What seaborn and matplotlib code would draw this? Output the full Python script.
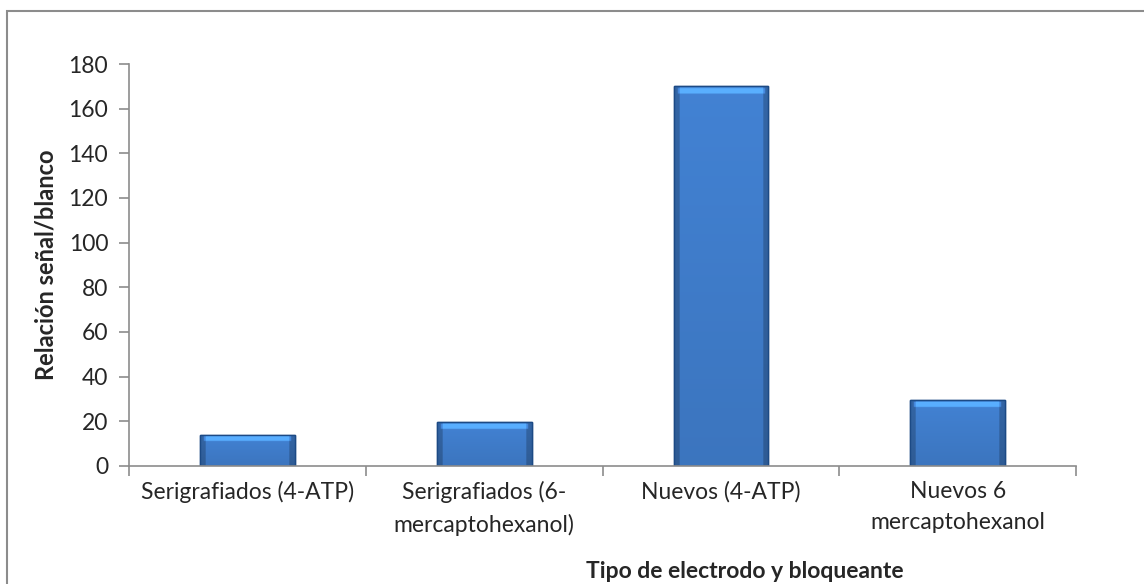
import numpy as np
import pandas as pd
import matplotlib
matplotlib.use("Agg")
import matplotlib.pyplot as plt
from matplotlib.patches import Rectangle
import seaborn as sns

# Daten aus dem Diagramm
categories = ["Serigrafiados (4-ATP)", "Serigrafiados (6-\nmercaptohexanol)",
              "Nuevos (4-ATP)", "Nuevos 6\nmercaptohexanol"]
values = [14, 19.5, 170, 29.5]
y_ticks = [0, 20, 40, 60, 80, 100, 120, 140, 160, 180]

df = pd.DataFrame({"Tipo": categories, "Relacion": values})

sns.set_theme(style="white")
plt.rcParams["font.family"] = ["Lato", "DejaVu Sans"]
FS = 16.5

fig = plt.figure(figsize=(11.44, 5.84), dpi=100)
ax = fig.add_axes([0.1128, 0.2021, 0.8278, 0.6883])

sns.barplot(data=df, x="Tipo", y="Relacion", color="#3F7ED0", width=0.4,
            saturation=1, ax=ax, edgecolor="#1C4A85", linewidth=1.0)

# Verlauf auf den Balken (Excel-Bevel-Optik)
for p in ax.patches:
    x0, y0 = p.get_x(), p.get_y()
    w, h = p.get_width(), p.get_height()
    base = np.array([0.26, 0.51, 0.83])
    n = 200
    yy = np.linspace(0, 1, n)[:, None] * h   # Abstand von oben (Datenwerte)
    xx = np.linspace(0, 1, n)[None, :]
    shade = np.ones((n, n)) * (1.0 - 0.10 * (yy / h))
    # helle Oberkante
    shade = shade + 0.35 * ((yy > 0.6) & (yy < 3.0)) * (np.abs(xx - 0.5) < 0.46)
    # dunkle Seiten
    shade = shade * (1.0 - 0.22 * (np.abs(xx - 0.5) > 0.44))
    img = np.clip(base[None, None, :] * shade[:, :, None], 0, 1)
    im = ax.imshow(img, extent=[x0, x0 + w, y0, y0 + h], aspect="auto",
                   origin="upper", zorder=p.get_zorder() + 0.1,
                   interpolation="bilinear")
    im.set_clip_path(p)
    ax.add_patch(Rectangle((x0, y0), w, h, fill=False, edgecolor="#1C4A85",
                           lw=1.0, zorder=p.get_zorder() + 0.3))

ax.set_xlim(-0.5, 3.5)
ax.set_ylim(0, 180)
ax.set_yticks(y_ticks)
ax.set_yticklabels([str(t) for t in y_ticks], fontsize=FS)

# Kategorien-Ticks an den Grenzen
ax.set_xticks([-0.5, 0.5, 1.5, 2.5, 3.5])
ax.set_xticklabels([])
ax.set_xticks(range(4), minor=True)
ax.set_xticklabels(categories, minor=True, fontsize=FS, linespacing=1.6,
                   va="top")
ax.tick_params(axis="x", which="minor", length=0, pad=11)
ax.tick_params(axis="x", which="major", length=7, width=1.2, color="#8C8C8C",
               direction="out", bottom=True)
ax.tick_params(axis="y", length=7, width=1.2, color="#8C8C8C",
               direction="out", left=True, pad=8)

for s in ["top", "right"]:
    ax.spines[s].set_visible(False)
for s in ["left", "bottom"]:
    ax.spines[s].set_color("#8C8C8C")
    ax.spines[s].set_linewidth(1.2)

ax.set_xlabel("")
ax.set_ylabel("Relación señal/blanco", fontsize=FS + 0.5, fontweight="bold")
ax.yaxis.set_label_coords(-0.076, 0.5)
fig.text(745 / 1144, 1 - 571 / 584, "Tipo de electrodo y bloqueante",
         fontsize=FS, fontweight="bold", ha="center", va="center")

# Rahmen um das Diagramm
fig.patches.append(Rectangle((7 / 1144, -0.1), 1.2, 1 - 11 / 584 + 0.1,
                             transform=fig.transFigure, fill=False,
                             edgecolor="#8C8C8C", lw=1.5))

fig.savefig("out.png", dpi=100)
